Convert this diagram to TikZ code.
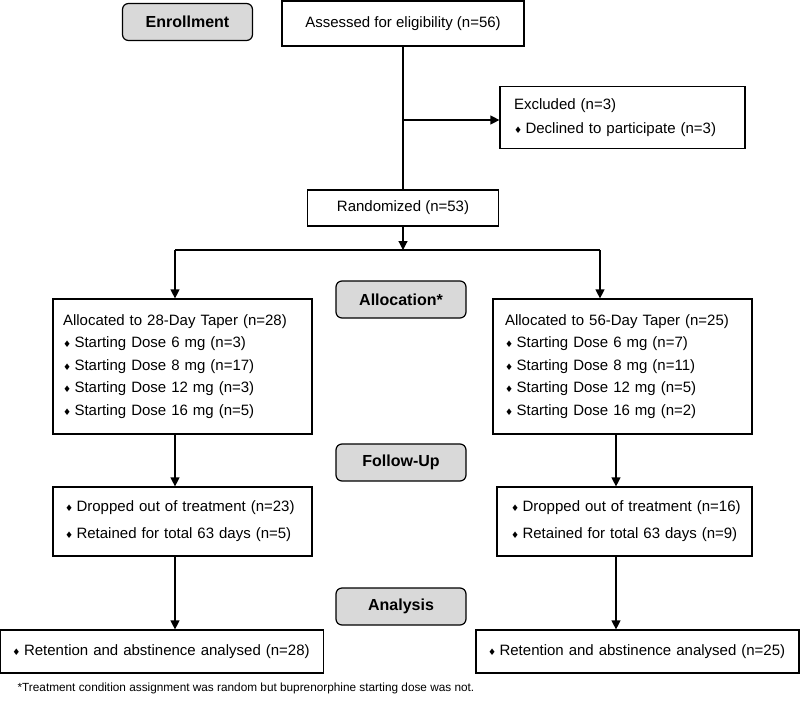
\documentclass[tikz,border=0pt]{standalone}
\usepackage{fontspec}
\setmainfont{Liberation Sans}
\newfontfamily\dvfont{DejaVu Sans}
\usetikzlibrary{arrows.meta}
\newcommand\bul{{\dvfont\fontsize{9}{9}\selectfont\raisebox{0.3pt}{♦}}\hspace{3.5pt}}
\newcommand\li[1]{\mbox{#1}}
\definecolor{hdrgray}{HTML}{D9D9D9}
\begin{document}
\begin{tikzpicture}[x=1pt,y=-1pt,line width=1.2pt,
  font=\fontsize{15}{18}\selectfont,
  arr/.style={-{Triangle[length=9pt,width=9pt]}},
  hdr/.style={draw,fill=hdrgray,rounded corners=6pt,minimum width=130pt,minimum height=37pt,inner sep=0pt,font=\fontsize{16}{18}\selectfont\bfseries},
  cbox/.style={draw,rectangle,inner sep=0pt},
  lbox/.style n args={3}{draw,rectangle,inner ysep=0pt,inner xsep=#2,text width=#1-2*#2,minimum height=#3,align=left}]
\useasboundingbox (0,0) rectangle (800,704);

\node[hdr] (enroll) at (187.5,22) {Enrollment};
\node[cbox,minimum width=242pt,minimum height=45pt] (assess) at (403,23.5) {Assessed for eligibility (n=56)};
\node[lbox={245pt}{14pt}{62pt},font=\fontsize{15}{24}\selectfont] (excl) at (622.5,117.5) {\li{Excluded (n=3)}\\\li{\bul Declined to participate (n=3)}};
\node[cbox,minimum width=191pt,minimum height=36pt] (rand) at (403,208) {Randomized (n=53)};

\node[hdr] (allochdr) at (401,299.5) {Allocation*};
\node[lbox={259pt}{10pt}{135pt},font=\fontsize{15}{22.5}\selectfont] (lalloc) at (182.5,366.5) {\li{Allocated to 28-Day Taper (n=28)}\\\li{\bul Starting Dose 6 mg (n=3)}\\\li{\bul Starting Dose 8 mg (n=17)}\\\li{\bul Starting Dose 12 mg (n=3)}\\\li{\bul Starting Dose 16 mg (n=5)}};
\node[lbox={259pt}{12pt}{135pt},font=\fontsize{15}{22.5}\selectfont] (ralloc) at (622.5,366.5) {\li{Allocated to 56-Day Taper (n=25)}\\\li{\bul Starting Dose 6 mg (n=7)}\\\li{\bul Starting Dose 8 mg (n=11)}\\\li{\bul Starting Dose 12 mg (n=5)}\\\li{\bul Starting Dose 16 mg (n=2)}};

\node[hdr] (followhdr) at (401,462.5) {Follow-Up};
\node[lbox={259pt}{12pt}{69pt},font=\fontsize{15}{27}\selectfont] (ldrop) at (182.5,521.5) {\li{\bul Dropped out of treatment (n=23)}\\\li{\bul Retained for total 63 days (n=5)}};
\node[lbox={255pt}{14pt}{69pt},font=\fontsize{15}{27}\selectfont] (rdrop) at (624.5,521.5) {\li{\bul Dropped out of treatment (n=16)}\\\li{\bul Retained for total 63 days (n=9)}};

\node[hdr] (analhdr) at (401,606.5) {Analysis};
\node[lbox={323pt}{12pt}{43pt}] (lfin) at (162,651.5) {\li{\bul Retention and abstinence analysed (n=28)}};
\node[lbox={323pt}{12pt}{43pt}] (rfin) at (637.5,651.5) {\li{\bul Retention and abstinence analysed (n=25)}};

\node[anchor=west,inner sep=0pt,font=\fontsize{11.8}{13}\selectfont] (foot) at (17,688) {*Treatment condition assignment was random but buprenorphine starting dose was not.};

% connectors
\coordinate (b1) at (403,120);
\coordinate (split) at (403,250);
\coordinate (lt) at (175,250);
\coordinate (rt) at (600,250);
\coordinate (rx) at (616,250);
\draw (assess.south) -- (rand.north);
\draw[arr] (b1) -- (b1 -| excl.west);
\draw[arr] (rand.south) -- (split);
\draw (lt) -- (rt);
\draw[arr] (lt) -- (lt |- lalloc.north);
\draw[arr] (rt) -- (rt |- ralloc.north);
\draw[arr] (lalloc.south -| lt) -- (ldrop.north -| lt);
\draw[arr] (ralloc.south -| rx) -- (rdrop.north -| rx);
\draw[arr] (ldrop.south -| lt) -- (lfin.north -| lt);
\draw[arr] (rdrop.south -| rx) -- (rfin.north -| rx);
\end{tikzpicture}
\end{document}
